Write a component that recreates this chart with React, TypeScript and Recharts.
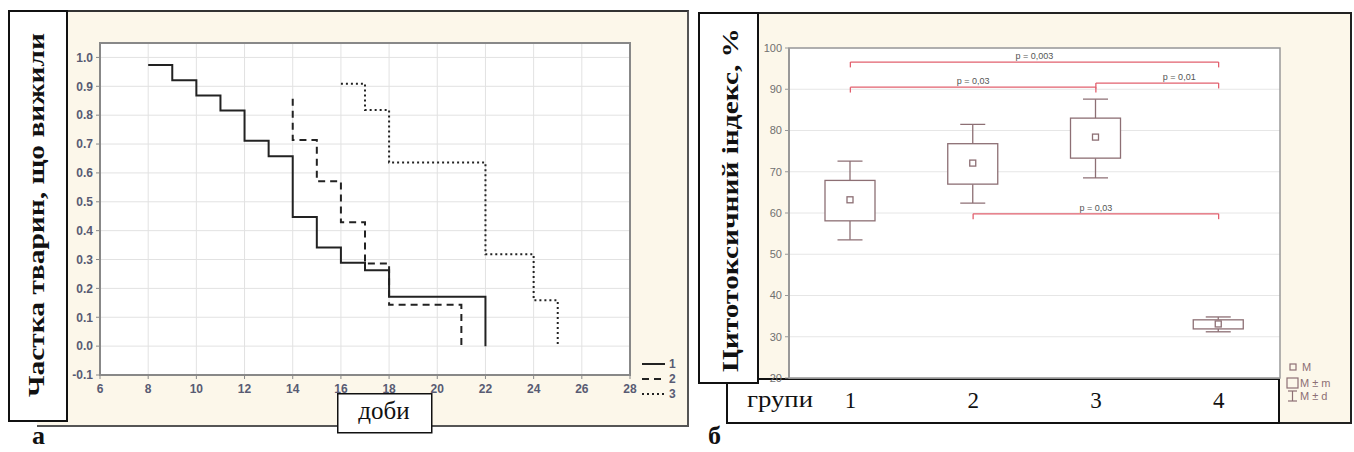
import React from "react";
import {
  LineChart,
  ComposedChart,
  Line,
  Bar,
  XAxis,
  YAxis,
  CartesianGrid,
  ReferenceLine,
  ReferenceArea,
} from "recharts";

// panel а: survival curves, three groups
const days1 = [8, 9, 10, 11, 12, 13, 14, 15, 16, 17, 18, 22];
const surv1 = [0.974, 0.921, 0.868, 0.816, 0.711, 0.658, 0.447, 0.342, 0.289, 0.263, 0.171, 0];
const days2 = [14, 14, 15, 16, 17, 18, 21];
const surv2 = [0.857, 0.714, 0.571, 0.429, 0.286, 0.143, 0];
const days3 = [16, 17, 18, 22, 24, 25];
const surv3 = [0.909, 0.818, 0.636, 0.318, 0.159, 0];
const dayTicks = [6, 8, 10, 12, 14, 16, 18, 20, 22, 24, 26, 28];
const survTicks = [-0.1, 0, 0.1, 0.2, 0.3, 0.4, 0.5, 0.6, 0.7, 0.8, 0.9, 1.0];

// panel б: cytotoxic index, M, M±m, M±d
const groups = ["1", "2", "3", "4"];
const means = [63.2, 72.1, 78.4, 33.1];
const semLo = [58.1, 67.0, 73.3, 31.9];
const semHi = [67.9, 76.8, 83.0, 34.1];
const sdLo = [53.5, 62.4, 68.5, 31.2];
const sdHi = [72.6, 81.5, 87.6, 34.8];
const indexTicks = [20, 30, 40, 50, 60, 70, 80, 90, 100];

// significance brackets
const bracketFrom = ["1", "1", "3", "2"];
const bracketTo = ["4", "3", "4", "4"];
const bracketLevel = [96.6, 90.5, 91.5, 59.8];
const bracketLabels = ["p = 0,003", "p = 0,03", "p = 0,01", "p = 0,03"];

const SANS = '"Liberation Sans", Arial, sans-serif';
const SERIF = '"Liberation Serif", "Times New Roman", serif';
const CREAM = "#fcf7ea";
const BOX = "#8d6f74";
const RED = "#e2606e";

const BoxShape = (props: any) => {
  const { x, y, width, height, payload } = props;
  const top = Math.min(y, y + height);
  const h = Math.abs(height);
  const hi = payload.dHi;
  const lo = payload.dLo;
  const k = h / (hi - lo);
  const py = (v: number) => top + (hi - v) * k;
  const cx = x + width / 2;
  const cap = 12.5;
  return (
    <g stroke={BOX} strokeWidth={1.3} fill="none">
      <line x1={cx} x2={cx} y1={py(hi)} y2={py(payload.mHi)} />
      <line x1={cx} x2={cx} y1={py(payload.mLo)} y2={py(lo)} />
      <line x1={cx - cap} x2={cx + cap} y1={py(hi)} y2={py(hi)} />
      <line x1={cx - cap} x2={cx + cap} y1={py(lo)} y2={py(lo)} />
      <rect
        x={x}
        y={py(payload.mHi)}
        width={width}
        height={py(payload.mLo) - py(payload.mHi)}
        fill="#fff"
      />
      <rect x={cx - 3} y={py(payload.mean) - 3} width={6} height={6} fill="#fff" />
    </g>
  );
};

export default function App() {
  const s1 = days1.map((d, i) => ({ day: d, p: surv1[i] }));
  const s2 = days2.map((d, i) => ({ day: d, p: surv2[i] }));
  const s3 = days3.map((d, i) => ({ day: d, p: surv3[i] }));
  const boxData = groups.map((g, i) => ({
    g,
    mean: means[i],
    mLo: semLo[i],
    mHi: semHi[i],
    dLo: sdLo[i],
    dHi: sdHi[i],
  }));

  const leftTick = { fontFamily: SANS, fontSize: 12, fontWeight: 700, fill: "#585b73" };

  return (
    <div
      style={{
        position: "absolute",
        left: 0,
        top: 0,
        width: 1354,
        height: 452,
        background: "#fff",
        overflow: "hidden",
      }}
    >
      {/* panel а frame */}
      <div
        style={{
          position: "absolute",
          left: 37,
          top: 10,
          width: 652,
          height: 417,
          boxSizing: "border-box",
          background: CREAM,
          borderTop: "2px solid #333",
          borderRight: "2px solid #555",
          borderBottom: "2px solid #555",
        }}
      />
      <div style={{ position: "absolute", left: 68, top: 10 }}>
        <LineChart width={620} height={416} margin={{ top: 33, right: 58, left: 0, bottom: 21 }}>
          <CartesianGrid stroke="#e2e2e2" fill="#fff" />
          <XAxis
            dataKey="day"
            type="number"
            domain={[6, 28]}
            ticks={dayTicks}
            allowDataOverflow
            height={30}
            tick={leftTick}
            tickSize={4}
            tickMargin={5}
            axisLine={{ stroke: "#888", strokeWidth: 2 }}
            tickLine={{ stroke: "#888" }}
          />
          <YAxis
            type="number"
            domain={[-0.1, 1.05]}
            ticks={survTicks}
            allowDataOverflow
            width={32}
            tick={leftTick}
            tickSize={4}
            tickMargin={3}
            tickFormatter={(v: number) => v.toFixed(1)}
            axisLine={{ stroke: "#888", strokeWidth: 2 }}
            tickLine={{ stroke: "#888" }}
          />
          <ReferenceArea y1={-0.1} y2={1.05} fill="none" stroke="#888" strokeWidth={2} />
          <Line data={s1} dataKey="p" type="stepAfter" stroke="#222" strokeWidth={2} dot={false} isAnimationActive={false} />
          <Line data={s2} dataKey="p" type="stepAfter" stroke="#222" strokeWidth={2} strokeDasharray="7 5" dot={false} isAnimationActive={false} />
          <Line data={s3} dataKey="p" type="stepAfter" stroke="#222" strokeWidth={2} strokeDasharray="2 3" dot={false} isAnimationActive={false} />
        </LineChart>
      </div>

      {/* panel б frame */}
      <div
        style={{
          position: "absolute",
          left: 726,
          top: 12,
          width: 626,
          height: 412,
          boxSizing: "border-box",
          background: CREAM,
          border: "2px solid #222",
        }}
      />
      <div
        style={{
          position: "absolute",
          left: 726,
          top: 378,
          width: 554,
          height: 46,
          boxSizing: "border-box",
          background: "#fff",
          border: "2px solid #111",
        }}
      />
      <div style={{ position: "absolute", left: 759, top: 12 }}>
        <ComposedChart width={593} height={412} data={boxData} margin={{ top: 36, right: 72, left: 0, bottom: 0 }}>
          <CartesianGrid vertical={false} stroke="#e6e6e6" fill="#fff" />
          <XAxis
            dataKey="g"
            height={46}
            interval={0}
            tickSize={0}
            tickMargin={14}
            axisLine={false}
            tick={{ fontFamily: SERIF, fontSize: 23, fill: "#111" }}
          />
          <YAxis
            type="number"
            domain={[20, 100]}
            ticks={indexTicks}
            allowDataOverflow
            width={30}
            tick={{ fontFamily: SANS, fontSize: 11, fill: "#707070" }}
            tickSize={4}
            tickMargin={3}
            axisLine={{ stroke: "#999", strokeWidth: 2 }}
            tickLine={{ stroke: "#999" }}
          />
          <ReferenceArea y1={20} y2={100} fill="none" stroke="#999" strokeWidth={1.5} />
          <Bar
            dataKey={(d: any) => [d.dLo, d.dHi]}
            barSize={50}
            shape={BoxShape}
            isAnimationActive={false}
          />
          {bracketFrom.map((from, i) => {
            const to = bracketTo[i];
            const y = bracketLevel[i];
            return (
              <React.Fragment key={i}>
                <ReferenceLine
                  segment={[{ x: from, y }, { x: to, y }]}
                  stroke={RED}
                  strokeWidth={1.3}
                  label={{
                    value: bracketLabels[i],
                    position: "top",
                    offset: 3,
                    fontSize: 9,
                    fontFamily: SANS,
                    fill: "#555",
                    dx: i === 2 ? 22 : 0,
                  }}
                />
                <ReferenceLine segment={[{ x: from, y }, { x: from, y: y - 1.3 }]} stroke={RED} strokeWidth={1.3} />
                <ReferenceLine segment={[{ x: to, y }, { x: to, y: y - 1.3 }]} stroke={RED} strokeWidth={1.3} />
              </React.Fragment>
            );
          })}
        </ComposedChart>
      </div>

      {/* labels, boxes and legends on top */}
      <svg
        width={1354}
        height={452}
        style={{ position: "absolute", left: 0, top: 0, pointerEvents: "none" }}
      >
        <rect x={9} y={11} width={58} height={410} fill="#fff" stroke="#111" strokeWidth={2} />
        <text
          transform="translate(44,215) rotate(-90)"
          textAnchor="middle"
          fontFamily={SERIF}
          fontWeight={700}
          fontSize={24}
          fill="#111"
          textLength={364}
          lengthAdjust="spacingAndGlyphs"
        >
          Частка тварин, що вижили
        </text>
        <rect x={337.75} y={393.75} width={94} height={39} fill="#fff" stroke="#111" strokeWidth={1.5} />
        <text x={384} y={419} textAnchor="middle" fontFamily={SERIF} fontSize={25} fill="#111">
          доби
        </text>
        <g stroke="#222" strokeWidth={2}>
          <line x1={642} x2={665} y1={364} y2={364} />
          <line x1={642} x2={665} y1={379} y2={379} strokeDasharray="7 5" />
          <line x1={642} x2={665} y1={394} y2={394} strokeDasharray="2 3" />
        </g>
        <g fontFamily={SANS} fontSize={12} fontWeight={700} fill="#585b73">
          <text x={669} y={368}>1</text>
          <text x={669} y={383}>2</text>
          <text x={669} y={398}>3</text>
        </g>
        <text x={32} y={444} fontFamily={SERIF} fontWeight={700} fontSize={26} fill="#111">
          а
        </text>

        <rect x={699} y={13} width={59} height={370} fill="#fff" stroke="#111" strokeWidth={2} />
        <text
          transform="translate(738,200) rotate(-90)"
          textAnchor="middle"
          fontFamily={SERIF}
          fontWeight={700}
          fontSize={24}
          fill="#111"
          textLength={344}
          lengthAdjust="spacingAndGlyphs"
        >
          Цитотоксичний індекс, %
        </text>
        <text
          x={747}
          y={407}
          fontFamily={SERIF}
          fontSize={23}
          fill="#111"
          textLength={66}
          lengthAdjust="spacingAndGlyphs"
        >
          групи
        </text>
        <g stroke={BOX} strokeWidth={1.2} fill="none">
          <rect x={1290} y={364} width={6} height={6} />
          <rect x={1287} y={378} width={11} height={10} />
          <line x1={1292.5} x2={1292.5} y1={391} y2={401} />
          <line x1={1288} x2={1297} y1={391} y2={391} />
          <line x1={1288} x2={1297} y1={401} y2={401} />
        </g>
        <g fontFamily={SANS} fontSize={11} fill={BOX}>
          <text x={1302} y={371}>M</text>
          <text x={1300} y={387}>M ± m</text>
          <text x={1300} y={400}>M ± d</text>
        </g>
        <text x={708} y={444} fontFamily={SERIF} fontWeight={700} fontSize={26} fill="#111">
          б
        </text>
      </svg>
    </div>
  );
}
